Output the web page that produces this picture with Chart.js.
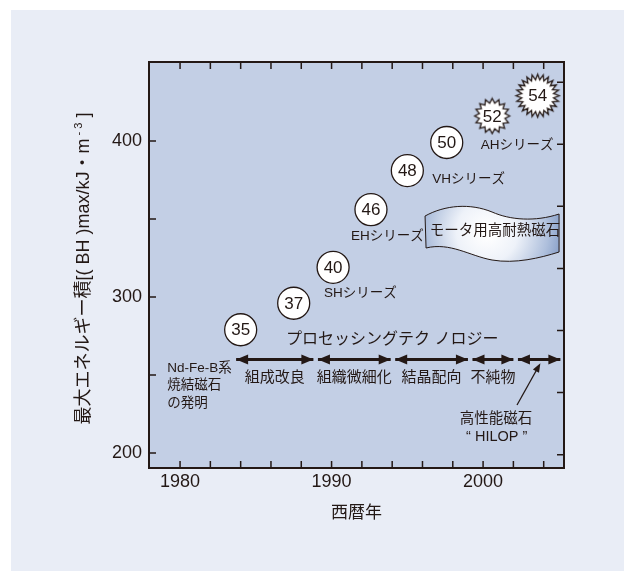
<!DOCTYPE html>
<html lang="ja">
<head>
<meta charset="utf-8">
<script src="https://cdn.jsdelivr.net/npm/chart.js@4.4.1/dist/chart.umd.min.js"></script>
<style>
  html, body { margin: 0; padding: 0; background: #ffffff; }
  #wrap { width: 630px; height: 571px; }
</style>
</head>
<body>
<div id="wrap"><canvas id="c" width="630" height="571"></canvas></div>
<script>
// ---- data ----
const years   = [1984.0, 1987.5, 1990.1, 1992.6, 1995.0, 1997.6, 2000.6, 2003.6];
const energy  = [279, 296, 319, 356, 381, 399, 416, 429];          // (BH)max, kJ/m^3
const grades  = ['35', '37', '40', '46', '48', '50', '52', '54'];   // grade (MGOe)
const seriesNames = ['SHシリーズ', 'EHシリーズ', 'VHシリーズ', 'AHシリーズ'];
const seriesPoint = [2, 3, 4, 5];

const stageStart = [1983.7, 1989.1, 1994.2, 1999.3, 2002.3];
const stageEnd   = [1988.8, 1993.9, 1999.0, 2002.0, 2005.1];
const stageLevel = 260;
const stageNames = ['組成改良', '組織微細化', '結晶配向', '不純物', ''];

const xLabelTicks = [1980, 1990, 2000];
const xMinorTicks = [1980, 1982, 1984, 1986, 1988, 1990, 1992, 1994, 1996, 1998, 2000, 2002, 2004];
const yLabelTicks = [200, 300, 400];
const yMinorTicks = [200, 250, 300, 350, 400];
const mgoeTicks   = [25, 30, 35, 40, 45, 50, 55];
const KJ_PER_MGOE = 7.958;

// ---- style ----
const FONT = "'Liberation Sans', 'Noto Sans CJK JP', sans-serif";
const INK = '#231815';
const PANEL = '#e9edf6';
const PLOT_BG = '#c3cfe5';

// starburst marker images for the newest grades
function starburst(outer, inner, spikes) {
  const size = Math.ceil(outer * 2 + 4);
  const cv = document.createElement('canvas');
  cv.width = size; cv.height = size;
  const g = cv.getContext('2d');
  const c = size / 2;
  g.beginPath();
  for (let i = 0; i < spikes * 2; i++) {
    const r = i % 2 === 0 ? outer : inner;
    const a = -Math.PI / 2 + i * Math.PI / spikes;
    const px = c + r * Math.cos(a), py = c + r * Math.sin(a);
    i === 0 ? g.moveTo(px, py) : g.lineTo(px, py);
  }
  g.closePath();
  g.fillStyle = '#ffffff';
  g.fill();
  g.lineWidth = 1.3;
  g.strokeStyle = INK;
  g.stroke();
  return cv;
}
const pointStyles = grades.map((g, i) => i < 6 ? 'circle' : (i === 6 ? starburst(17.5, 13, 16) : starburst(21.5, 16, 24)));

const gradePoints = years.map((y, i) => ({ x: y, y: energy[i] }));
const stageDatasets = stageStart.map((s, i) => ({
  type: 'line',
  data: [{ x: s, y: stageLevel }, { x: stageEnd[i], y: stageLevel }],
  borderColor: INK,
  borderWidth: 3,
  borderCapStyle: 'butt',
  pointRadius: 0,
  fill: false
}));

function arrowHead(ctx, x, y, dx, dy, len, half) {
  const l = Math.hypot(dx, dy);
  const ux = dx / l, uy = dy / l;
  const bx = x - ux * len, by = y - uy * len;
  ctx.beginPath();
  ctx.moveTo(x, y);
  ctx.lineTo(bx - uy * half, by + ux * half);
  ctx.lineTo(bx + uy * half, by - ux * half);
  ctx.closePath();
  ctx.fill();
}

const decor = {
  id: 'decor',
  beforeDraw(chart) {
    const { ctx, chartArea: a, width, height } = chart;
    ctx.save();
    ctx.fillStyle = '#ffffff';
    ctx.fillRect(0, 0, width, height);
    ctx.fillStyle = PANEL;
    ctx.fillRect(11, 10, 613, 561);
    ctx.fillStyle = PLOT_BG;
    ctx.fillRect(a.left, a.top, a.right - a.left, a.bottom - a.top);
    ctx.restore();
  },
  afterDatasetsDraw(chart) {
    const { ctx } = chart;
    const xs = chart.scales.x, ys = chart.scales.y;
    const X = v => xs.getPixelForValue(v), Y = v => ys.getPixelForValue(v);
    ctx.save();
    ctx.fillStyle = INK;

    // grade numbers inside the markers
    ctx.font = '17px ' + FONT;
    ctx.textAlign = 'center';
    ctx.textBaseline = 'middle';
    grades.forEach((g, i) => ctx.fillText(g, X(years[i]), Y(energy[i]) + 1));

    // series names next to their grades
    const seriesOffset = [[-9, 26], [-20, 27], [25, 9], [34, 3]];
    ctx.font = '13.5px ' + FONT;
    ctx.textAlign = 'left';
    seriesNames.forEach((s, i) => {
      const p = seriesPoint[i];
      ctx.fillText(s, X(years[p]) + seriesOffset[i][0], Y(energy[p]) + seriesOffset[i][1]);
    });

    // process stage arrowheads and names
    stageStart.forEach((s, i) => {
      const x0 = X(s), x1 = X(stageEnd[i]), y = Y(stageLevel);
      arrowHead(ctx, x0, y, -1, 0, 12, 5);
      arrowHead(ctx, x1, y, 1, 0, 12, 5);
    });
    ctx.font = '15px ' + FONT;
    ctx.textAlign = 'center';
    stageNames.forEach((n, i) => {
      if (n) ctx.fillText(n, (X(stageStart[i]) + X(stageEnd[i])) / 2, Y(stageLevel) + 18);
    });

    // heading over the arrows
    ctx.font = '16px ' + FONT;
    ctx.fillText('プロセッシングテク ノロジー', X(1994.0), Y(272.4));

    // invention note
    ctx.font = '13.5px ' + FONT;
    ctx.textAlign = 'left';
    ['Nd-Fe-B系', '焼結磁石', 'の発明'].forEach((t, i) => ctx.fillText(t, X(1979.15), Y(255) + 1 + i * 17.5));

    // high-performance magnet pointer
    ctx.strokeStyle = INK;
    ctx.lineWidth = 1.3;
    const tx = X(2002.24), ty = Y(230.8), hx = X(2003.78), hy = Y(257.5);
    ctx.beginPath();
    ctx.moveTo(tx, ty);
    ctx.lineTo(hx - (hx - tx) * 0.12, hy - (hy - ty) * 0.12);
    ctx.stroke();
    arrowHead(ctx, hx, hy, hx - tx, hy - ty, 9, 3.5);
    ctx.font = '14.5px ' + FONT;
    ctx.textAlign = 'center';
    ctx.fillText('高性能磁石', X(2000.85), Y(221.8));
    ctx.fillText('“ HILOP ”', X(2000.9), Y(221.8) + 18);

    // banner: heat-resistant motor magnets
    const bx = X(1996.17), by = Y(351.9);
    ctx.beginPath();
    ctx.moveTo(bx, by);
    ctx.bezierCurveTo(bx + 20, by - 11, bx + 45, by - 13, bx + 67, by - 4);
    ctx.bezierCurveTo(bx + 85, by + 4, bx + 110, by + 6, bx + 134, by - 2);
    ctx.lineTo(bx + 134, by + 36);
    ctx.bezierCurveTo(bx + 115, by + 42, bx + 90, by + 48, bx + 67, by + 44);
    ctx.bezierCurveTo(bx + 45, by + 40, bx + 25, by + 26, bx + 1, by + 32);
    ctx.closePath();
    const grad = ctx.createRadialGradient(bx + 62, by + 16, 4, bx + 62, by + 16, 80);
    grad.addColorStop(0, '#ffffff');
    grad.addColorStop(0.35, '#eef2f9');
    grad.addColorStop(0.75, '#aebfdc');
    grad.addColorStop(1, '#7d96c2');
    ctx.fillStyle = grad;
    ctx.fill();
    ctx.lineWidth = 1;
    ctx.strokeStyle = INK;
    ctx.stroke();
    ctx.fillStyle = INK;
    ctx.font = '14.5px ' + FONT;
    ctx.textAlign = 'center';
    ctx.textBaseline = 'middle';
    ctx.fillText('モータ用高耐熱磁石', bx + 70, by + 15);

    ctx.restore();
  },
  afterDraw(chart) {
    const { ctx, chartArea: a } = chart;
    const xs = chart.scales.x, ys = chart.scales.y;
    ctx.save();
    ctx.strokeStyle = INK;
    ctx.lineWidth = 1.5;
    const T = 7;
    ctx.beginPath();
    xMinorTicks.forEach(v => {
      const x = xs.getPixelForValue(v);
      ctx.moveTo(x, a.bottom); ctx.lineTo(x, a.bottom - T);
      ctx.moveTo(x, a.top); ctx.lineTo(x, a.top + T);
    });
    yMinorTicks.forEach(v => {
      const y = ys.getPixelForValue(v);
      ctx.moveTo(a.left, y); ctx.lineTo(a.left + T, y);
    });
    mgoeTicks.forEach(m => {
      const y = ys.getPixelForValue(m * KJ_PER_MGOE);
      ctx.moveTo(a.right, y); ctx.lineTo(a.right - T, y);
    });
    ctx.stroke();
    ctx.lineWidth = 2;
    ctx.strokeRect(a.left, a.top, a.right - a.left, a.bottom - a.top);

    // axis titles
    ctx.fillStyle = INK;
    ctx.textAlign = 'center';
    ctx.textBaseline = 'middle';
    ctx.font = '17px ' + FONT;
    ctx.fillText('西暦年', (a.left + a.right) / 2, 513);

    // vertical title, with the unit exponent set as a raised small run
    const main = '最大エネルギー積[( BH )max/kJ・m', sup = ' - 3', tail = ' ]';
    const mainFont = '18px ' + FONT, supFont = '11px ' + FONT;
    ctx.font = mainFont;
    const wMain = ctx.measureText(main).width, wTail = ctx.measureText(tail).width;
    ctx.font = supFont;
    const wSup = ctx.measureText(sup).width;
    const total = wMain + wSup + wTail;
    ctx.translate(84, 268.5);
    ctx.rotate(-Math.PI / 2);
    ctx.textAlign = 'left';
    let cx = -total / 2;
    ctx.font = mainFont;
    ctx.fillText(main, cx, 0);
    cx += wMain;
    ctx.font = supFont;
    ctx.fillText(sup, cx, -5);
    cx += wSup;
    ctx.font = mainFont;
    ctx.fillText(tail, cx, 0);
    ctx.restore();
  }
};

new Chart(document.getElementById('c'), {
  type: 'scatter',
  data: {
    datasets: [{
      data: gradePoints,
      pointStyle: pointStyles,
      pointRadius: 16,
      pointBackgroundColor: '#ffffff',
      pointBorderColor: INK,
      pointBorderWidth: 1.3
    }, ...stageDatasets]
  },
  options: {
    responsive: false,
    animation: false,
    events: [],
    layout: { padding: { top: 62, right: 66, left: 0, bottom: 0 } },
    plugins: { legend: { display: false }, tooltip: { enabled: false } },
    scales: {
      x: {
        type: 'linear',
        min: 1977.95,
        max: 2005.34,
        afterFit: s => { s.height = 103; },
        afterBuildTicks: s => { s.ticks = xLabelTicks.map(v => ({ value: v })); },
        grid: { display: false },
        border: { display: false },
        ticks: { color: INK, font: { family: FONT, size: 18 }, padding: -5, maxRotation: 0, callback: v => String(v) }
      },
      y: {
        type: 'linear',
        min: 190.4,
        max: 450.6,
        afterFit: s => { s.width = 149; },
        afterBuildTicks: s => { s.ticks = yLabelTicks.map(v => ({ value: v })); },
        grid: { display: false },
        border: { display: false },
        ticks: { color: INK, font: { family: FONT, size: 18 }, padding: -1, callback: v => String(v) }
      }
    }
  },
  plugins: [decor]
});
</script>
</body>
</html>
